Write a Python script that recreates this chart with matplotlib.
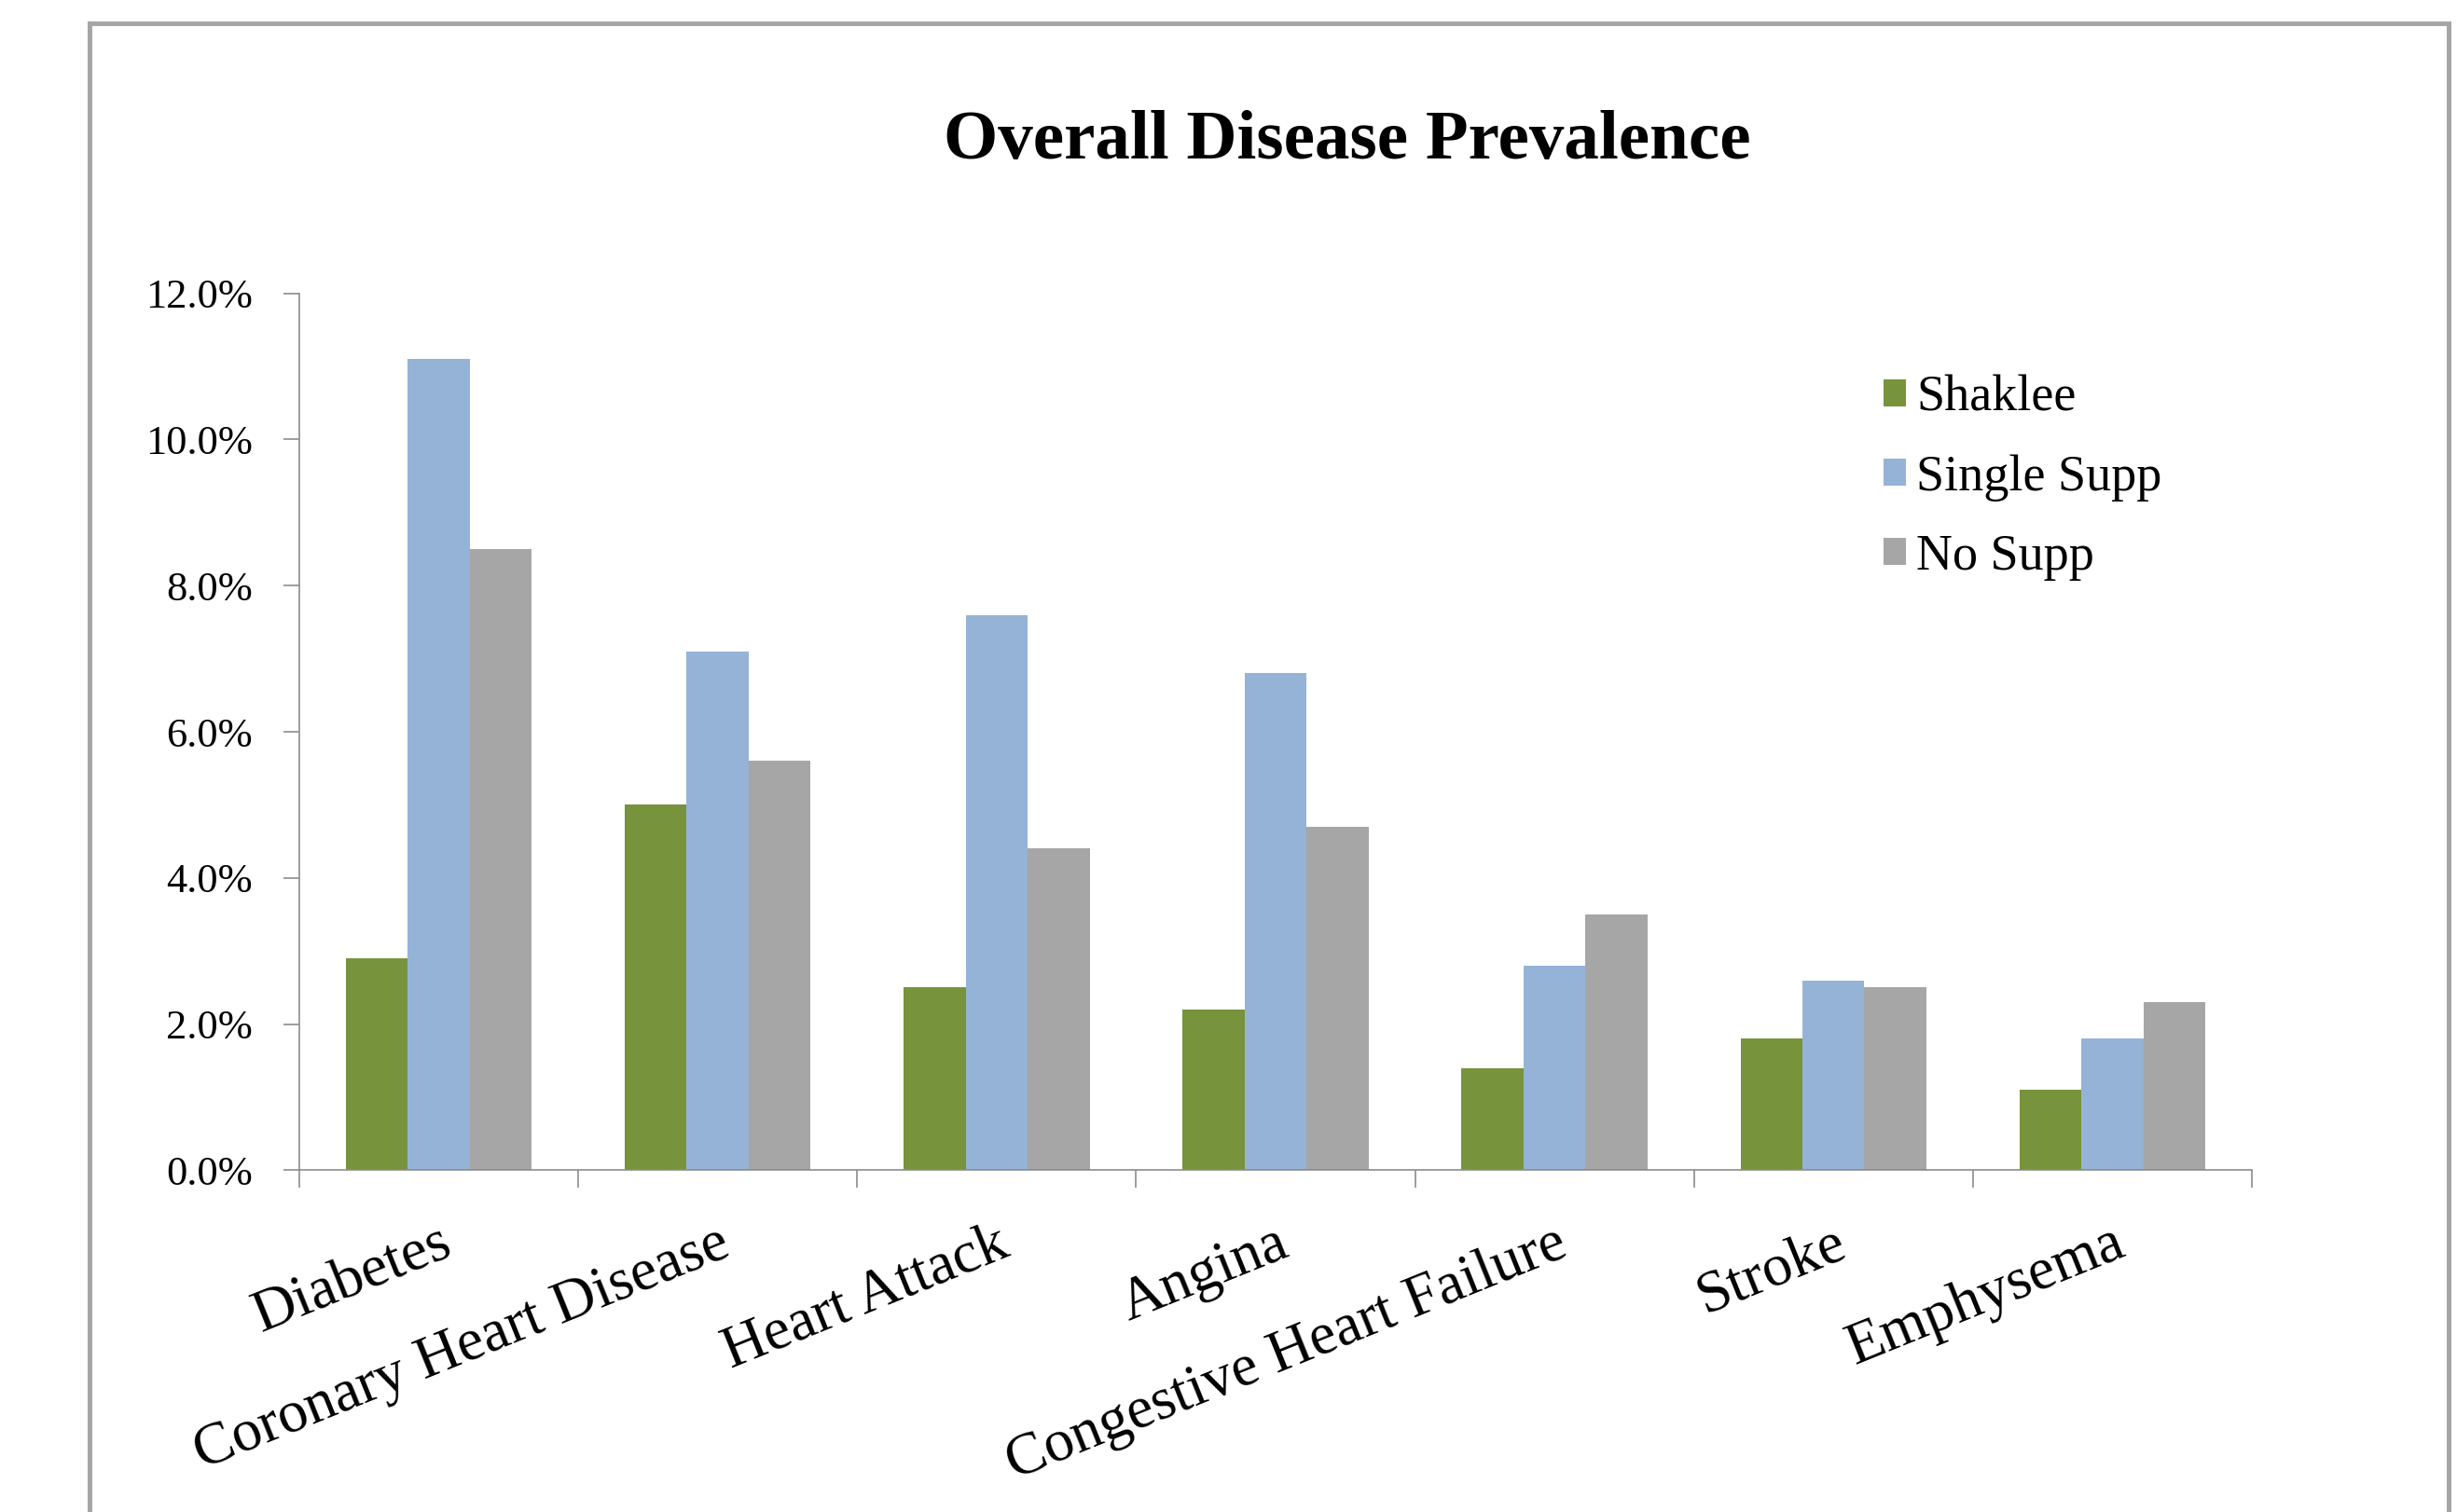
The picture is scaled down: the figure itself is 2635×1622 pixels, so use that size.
import matplotlib

matplotlib.use("Agg")
import matplotlib.pyplot as plt
import numpy as np
from matplotlib.patches import Rectangle

CATEGORIES = ["Diabetes", "Coronary Heart Disease", "Heart Attack", "Angina",
              "Congestive Heart Failure", "Stroke", "Emphysema"]
SERIES = ["Shaklee", "Single Supp", "No Supp"]
SHAKLEE = [2.9, 5.0, 2.5, 2.2, 1.4, 1.8, 1.1]
SINGLE_SUPP = [11.1, 7.1, 7.6, 6.8, 2.8, 2.6, 1.8]
NO_SUPP = [8.5, 5.6, 4.4, 4.7, 3.5, 2.5, 2.3]
Y_TICKS = [0, 2, 4, 6, 8, 10, 12]

COLORS = ["#77933C", "#95B3D7", "#A6A6A6"]
AXIS_GREY = "#8C8C8C"

plt.rcParams["font.family"] = ["Liberation Serif", "DejaVu Serif"]

fig = plt.figure(figsize=(26.35, 16.22), dpi=100)
ax = fig.add_axes([0.1218, 0.226, 0.9165 - 0.1218, 0.806 - 0.226])

# outer chart frame
fig.patches.append(Rectangle((0.0364, -0.02), 0.9602, 1.0046, transform=fig.transFigure,
                             fill=False, edgecolor="#A6A6A6", linewidth=3.6, zorder=0))

x = np.arange(len(CATEGORIES))
w = 1 / 4.5
for i, (vals, name) in enumerate(zip([SHAKLEE, SINGLE_SUPP, NO_SUPP], SERIES)):
    ax.bar(x + (i - 1) * w, vals, width=w, color=COLORS[i], label=name, linewidth=0)

ax.set_xlim(-0.5, len(CATEGORIES) - 0.5)
ax.set_ylim(0, 12)
ax.set_yticks(Y_TICKS)
ax.set_yticklabels([f"{v:.1f}%" for v in Y_TICKS], fontsize=32)
ax.tick_params(axis="y", length=12, width=1.2, color=AXIS_GREY, pad=24)

# category ticks sit between groups, labels at centers
ax.set_xticks(np.arange(len(CATEGORIES) + 1) - 0.5)
ax.set_xticklabels([])
ax.set_xticks(x, minor=True)
ax.set_xticklabels(CATEGORIES, minor=True, rotation=22, ha="right", rotation_mode="anchor",
                   fontsize=46)
ax.tick_params(axis="x", which="major", length=14, width=1.2, color=AXIS_GREY)
ax.tick_params(axis="x", which="minor", length=0, pad=36)

for side in ["top", "right"]:
    ax.spines[side].set_visible(False)
for side in ["left", "bottom"]:
    ax.spines[side].set_color(AXIS_GREY)
    ax.spines[side].set_linewidth(1.2)

fig.text(0.5485, 0.906, "Overall Disease Prevalence", ha="center", va="center",
         fontsize=54, fontweight="bold")

fig.legend(loc="upper left", bbox_to_anchor=(0.748, 0.782), frameon=False, fontsize=39,
           handlelength=0.45, handleheight=0.45, handletextpad=0.2, labelspacing=0.64)

fig.savefig("out.png", dpi=100)
